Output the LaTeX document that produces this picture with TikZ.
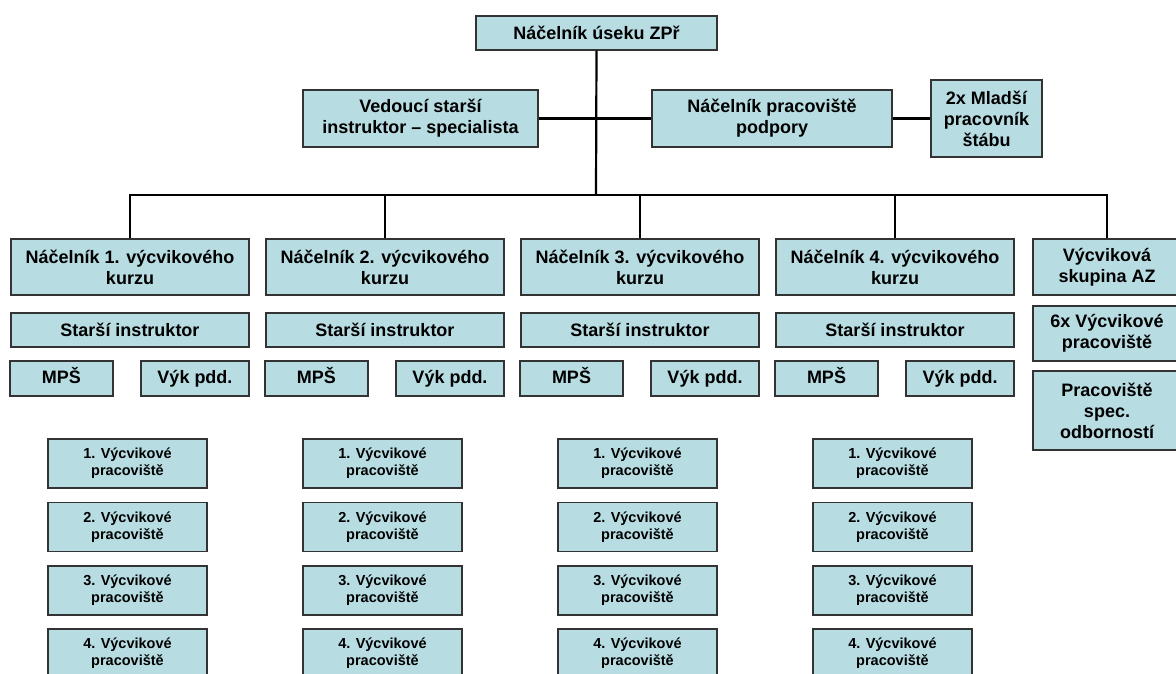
\documentclass[tikz,border=0pt]{standalone}
\usepackage{fontspec}
\setmainfont{Liberation Sans}
\usepackage{tikz}
\definecolor{boxfill}{RGB}{183,221,227}

\begin{document}
\begin{tikzpicture}[x=1pt,y=-1pt,
  box/.style={draw=black!80, line width=1.2pt, fill=boxfill, inner sep=0pt, align=center, font=\fontsize{18}{21}\selectfont\bfseries},
  course/.style={box, minimum width=238pt, minimum height=56pt},
  instr/.style={box, minimum width=238pt, minimum height=34pt},
  unit/.style={box, minimum height=35pt, text height=13pt, text depth=4pt},
  post/.style={box, font=\fontsize{14.5}{17}\selectfont\bfseries, minimum width=159pt, minimum height=49pt},
  side/.style={box, minimum width=148pt},
  link/.style={black, line width=2.2pt}]

\clip (0,0) rectangle (1176,673);

\node[box, minimum width=241pt, minimum height=34pt] (chief) at (596.5,33) {Náčelník úseku ZPř};
\node[box, minimum width=235pt, minimum height=57pt] (senior) at (420.5,118.5) {Vedoucí starší\\instruktor – specialista};
\node[box, minimum width=240pt, minimum height=57pt] (support) at (772,118.5) {Náčelník pracoviště\\podpory};
\node[box, minimum width=111pt, minimum height=77pt] (junior) at (986.5,118.5) {2x Mladší\\pracovník\\štábu};


\begin{scope}[xshift=0pt]{
\node[course] (course1) at (130,267) {Náčelník 1. výcvikového\\kurzu};
\node[instr] (instr1) at (130,330) {Starší instruktor};
\node[unit, minimum width=103pt] (mps1) at (61.5,378.5) {MPŠ};
\node[unit, minimum width=108pt] (vyk1) at (195,378.5) {Výk pdd.};

\node[post] (post11) at (127.5,463.5) {1. Výcvikové\\pracoviště};
\node[post] (post12) at (127.5,527) {2. Výcvikové\\pracoviště};
\node[post] (post13) at (127.5,590.5) {3. Výcvikové\\pracoviště};
\node[post] (post14) at (127.5,653.5) {4. Výcvikové\\pracoviště};
} \end{scope}

\begin{scope}[xshift=255pt]{
\node[course] (course2) at (130,267) {Náčelník 2. výcvikového\\kurzu};
\node[instr] (instr2) at (130,330) {Starší instruktor};
\node[unit, minimum width=103pt] (mps2) at (61.5,378.5) {MPŠ};
\node[unit, minimum width=108pt] (vyk2) at (195,378.5) {Výk pdd.};

\node[post] (post21) at (127.5,463.5) {1. Výcvikové\\pracoviště};
\node[post] (post22) at (127.5,527) {2. Výcvikové\\pracoviště};
\node[post] (post23) at (127.5,590.5) {3. Výcvikové\\pracoviště};
\node[post] (post24) at (127.5,653.5) {4. Výcvikové\\pracoviště};
} \end{scope}

\begin{scope}[xshift=510pt]{
\node[course] (course3) at (130,267) {Náčelník 3. výcvikového\\kurzu};
\node[instr] (instr3) at (130,330) {Starší instruktor};
\node[unit, minimum width=103pt] (mps3) at (61.5,378.5) {MPŠ};
\node[unit, minimum width=108pt] (vyk3) at (195,378.5) {Výk pdd.};

\node[post] (post31) at (127.5,463.5) {1. Výcvikové\\pracoviště};
\node[post] (post32) at (127.5,527) {2. Výcvikové\\pracoviště};
\node[post] (post33) at (127.5,590.5) {3. Výcvikové\\pracoviště};
\node[post] (post34) at (127.5,653.5) {4. Výcvikové\\pracoviště};
} \end{scope}

\begin{scope}[xshift=765pt]{
\node[course] (course4) at (130,267) {Náčelník 4. výcvikového\\kurzu};
\node[instr] (instr4) at (130,330) {Starší instruktor};
\node[unit, minimum width=103pt] (mps4) at (61.5,378.5) {MPŠ};
\node[unit, minimum width=108pt] (vyk4) at (195,378.5) {Výk pdd.};

\node[post] (post41) at (127.5,463.5) {1. Výcvikové\\pracoviště};
\node[post] (post42) at (127.5,527) {2. Výcvikové\\pracoviště};
\node[post] (post43) at (127.5,590.5) {3. Výcvikové\\pracoviště};
\node[post] (post44) at (127.5,653.5) {4. Výcvikové\\pracoviště};
} \end{scope}

\node[side, minimum height=56pt] (group) at (1107,267) {Výcviková\\skupina AZ};
\node[side, minimum height=55pt] (groupsix) at (1107,333.5) {6x Výcvikové\\pracoviště};
\node[side, minimum height=79pt] (groupspec) at (1107,410.5) {Pracoviště\\spec.\\odborností};

\coordinate (bus) at (596,195);
\draw[link] (chief.south) -- (bus);
\draw[link] (senior.east) -- (support.west);
\draw[link] (support.east) -- (junior.west);
\draw[link] (course1.north) |- (bus) -| (group.north);
\draw[link] (course2.north) -- (course2.north |- bus);
\draw[link] (course3.north) -- (course3.north |- bus);
\draw[link] (course4.north) -- (course4.north |- bus);

\end{tikzpicture}
\end{document}
